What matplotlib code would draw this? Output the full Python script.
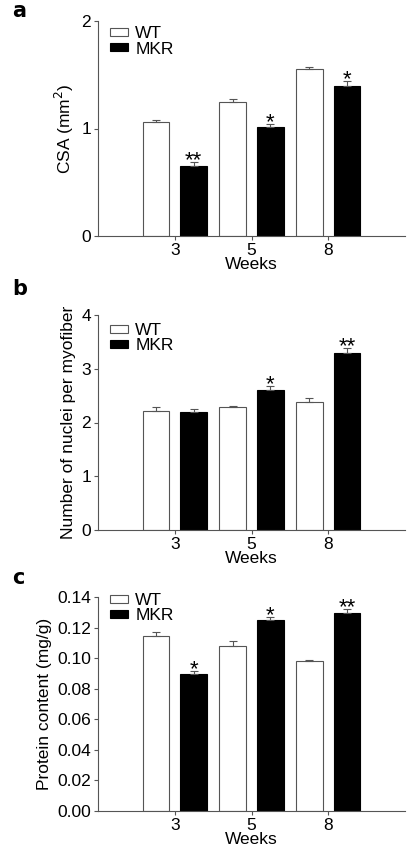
import numpy as np
import matplotlib.pyplot as plt

plt.rcParams['font.family'] = ['Liberation Sans', 'DejaVu Sans']

weeks = ['3', '5', '8']

# panel a: CSA (mm^2)
csa_wt = [1.06, 1.25, 1.55]
csa_wt_err = [0.02, 0.02, 0.025]
csa_mkr = [0.655, 1.017, 1.40]
csa_mkr_err = [0.03, 0.022, 0.04]
csa_stars = ['**', '*', '*']

# panel b: nuclei per myofiber
nuc_wt = [2.22, 2.29, 2.39]
nuc_wt_err = [0.06, 0.02, 0.07]
nuc_mkr = [2.19, 2.60, 3.29]
nuc_mkr_err = [0.06, 0.08, 0.10]
nuc_stars = ['', '*', '**']

# panel c: protein content (mg/g)
prot_wt = [0.1143, 0.1077, 0.0979]
prot_wt_err = [0.003, 0.0033, 0.001]
prot_mkr = [0.0896, 0.1249, 0.1297]
prot_mkr_err = [0.0022, 0.002, 0.0027]
prot_stars = ['*', '*', '**']

fig = plt.figure(figsize=(4.13, 8.56), dpi=100)

left, width = 98 / 413, 307 / 413
c_ticks = np.arange(0, 0.141, 0.02)
# label, wt, wt err, mkr, mkr err, stars, ylabel, ylim, yticks, yticklabels,
# axes top px, axes bottom px, legend offset px, panel-letter baseline px
panels = [
    ('a', csa_wt, csa_wt_err, csa_mkr, csa_mkr_err, csa_stars,
     'CSA (mm$^2$)', (0, 2), [0, 1, 2], ['0', '1', '2'], 21, 236, 5.5, 17),
    ('b', nuc_wt, nuc_wt_err, nuc_mkr, nuc_mkr_err, nuc_stars,
     'Number of nuclei per myofiber', (0, 4), [0, 1, 2, 3, 4],
     ['0', '1', '2', '3', '4'], 315, 530, 8, 295),
    ('c', prot_wt, prot_wt_err, prot_mkr, prot_mkr_err, prot_stars,
     'Protein content (mg/g)', (0, 0.14), c_ticks,
     ['%.2f' % v for v in c_ticks], 597, 811, -4, 584),
]

edge = '#555555'
x = np.arange(len(weeks))
w = 0.35
off = 0.245

for (lab, wt, wte, mkr, mkre, stars, ylab, ylim, yt, ytl,
     top, bot, legoff, labbase) in panels:
    h = bot - top
    ax = fig.add_axes([left, 1 - bot / 856, width, h / 856])
    ax.bar(x - off, wt, w, yerr=[np.zeros(3), wte], color='white',
           edgecolor=edge, linewidth=0.8, label='WT',
           error_kw=dict(ecolor=edge, elinewidth=0.8, capsize=3, capthick=0.8))
    ax.bar(x + off, mkr, w, yerr=[np.zeros(3), mkre], color='black',
           edgecolor='black', linewidth=0.8, label='MKR',
           error_kw=dict(ecolor=edge, elinewidth=0.8, capsize=3, capthick=0.8))
    for i in range(3):
        if stars[i]:
            ax.annotate(stars[i], (x[i] + off, mkr[i] + mkre[i]),
                        xytext=(0, -3), textcoords='offset points',
                        ha='center', va='baseline', fontsize=16)
    ax.set_xlim(-1, 3)
    ax.set_ylim(*ylim)
    ax.set_yticks(yt)
    ax.set_yticklabels(ytl)
    ax.set_xticks(x)
    ax.set_xticklabels(weeks)
    for s in ['top', 'right']:
        ax.spines[s].set_visible(False)
    for s in ['left', 'bottom']:
        ax.spines[s].set_color(edge)
        ax.spines[s].set_linewidth(0.8)
    ax.tick_params(axis='both', colors=edge, length=3, width=0.8,
                   labelsize=12.5, labelcolor='black', pad=2)
    ax.set_xlabel('Weeks', fontsize=12.5, labelpad=-1)
    ax.set_ylabel(ylab, fontsize=12.5)
    ax.legend(loc='upper left', bbox_to_anchor=(12 / 307, 1 - legoff / h),
              frameon=False, fontsize=12.5, handlelength=1.05,
              handleheight=0.3, handletextpad=0.4, labelspacing=0.0,
              borderpad=0, borderaxespad=0)
    fig.text(12 / 413, 1 - labbase / 856, lab, fontsize=15,
             fontweight='bold', family='DejaVu Sans', va='baseline')

fig.savefig('out.png', dpi=100)
